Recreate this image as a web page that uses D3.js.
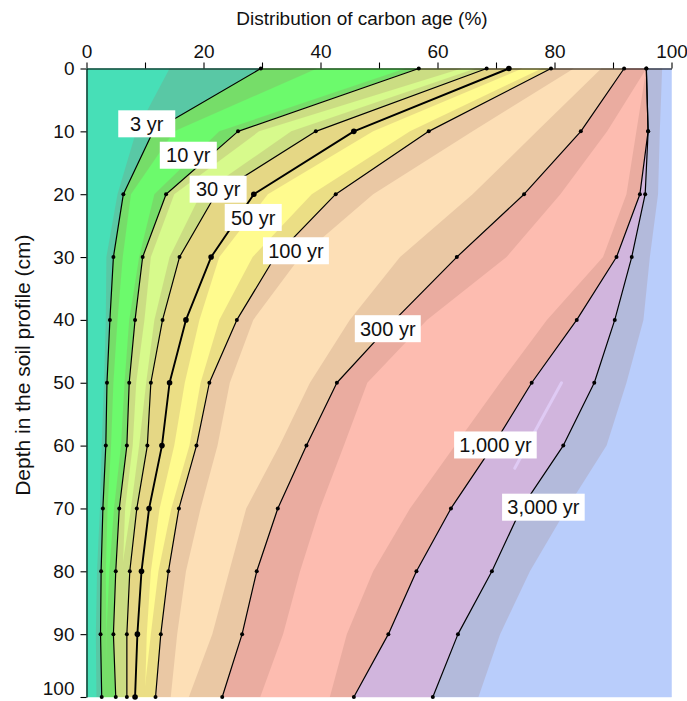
<!DOCTYPE html>
<html><head><meta charset="utf-8">
<script src="https://cdn.jsdelivr.net/npm/d3@7"></script>
<style>
body{margin:0;background:#fff}
svg{display:block}
text{font-family:"Liberation Sans",Arial,Helvetica,sans-serif;fill:#111}
</style>
</head><body>
<svg id="chart" width="687" height="701"></svg>
<script>
// ---- data ----
const depths = [0, 10, 20, 30, 40, 50, 60, 70, 80, 90, 100];
const ageLabels = ["3 yr", "10 yr", "30 yr", "50 yr", "100 yr", "300 yr", "1,000 yr", "3,000 yr"];

// cumulative share of carbon younger than each age (%), by depth
const cum3yr    = [29.8, 11.4, 6.3, 4.6, 4.0, 3.5, 3.3, 2.8, 2.5, 2.4, 2.6];
const cum10yr   = [56.8, 25.9, 13.6, 9.6, 8.3, 7.3, 6.9, 5.6, 5.0, 4.6, 5.0];
const cum30yr   = [68.4, 39.2, 22.1, 15.9, 13.0, 11.0, 10.4, 8.6, 7.4, 6.9, 6.9];
const cum50yr   = [72.2, 45.7, 28.6, 21.3, 17.0, 14.2, 12.9, 10.7, 9.4, 8.7, 8.3];
const cum100yr  = [79.4, 58.5, 42.6, 32.2, 25.7, 21.0, 18.8, 15.8, 14.0, 12.7, 11.8];
const cum300yr  = [91.9, 84.5, 74.8, 63.3, 52.7, 42.8, 37.6, 32.7, 29.1, 26.6, 23.2];
const cum1000yr = [95.7, 96.0, 94.6, 90.6, 83.8, 76.1, 69.5, 62.3, 56.4, 51.6, 45.7];
const cum3000yr = [95.7, 96.0, 95.5, 93.2, 90.3, 86.8, 81.5, 74.3, 69.3, 63.5, 59.2];

// uncertainty bands around each line (%), by depth
const band3lo    = [14.2, 8.5, 5.3, 3.4, 3.3, 3.0, 2.6, 2.3, 1.8, 1.6, 1.7];
const band3hi    = [39.4, 15.0, 7.6, 6.2, 5.3, 4.6, 4.2, 3.6, 3.3, 3.4, 3.6];
const band10lo   = [54.5, 22.7, 11.6, 9.0, 7.3, 6.5, 5.9, 4.7, 3.9, 3.4, 3.5];
const band10hi   = [64.1, 29.5, 15.0, 11.0, 9.9, 8.5, 7.9, 6.6, 6.2, 5.9, 6.0];
const band30lo   = [66.5, 35.0, 19.5, 14.2, 11.6, 10.2, 9.0, 7.6, 6.0, 5.7, 5.8];
const band30hi   = [71.0, 43.0, 26.0, 19.0, 15.5, 13.0, 12.0, 10.0, 8.7, 8.0, 7.8];
const band50lo   = [69.5, 41.5, 24.5, 17.5, 14.5, 12.0, 11.5, 9.5, 8.2, 7.6, 7.3];
const band50hi   = [74.5, 49.0, 31.0, 22.7, 19.3, 16.8, 15.0, 12.5, 11.0, 10.3, 10.0];
const band100lo  = [77.8, 55.3, 38.5, 28.4, 22.7, 19.5, 17.6, 14.5, 12.3, 11.0, 9.8];
const band100hi  = [83.3, 66.0, 49.0, 36.5, 28.5, 24.5, 22.4, 19.5, 17.0, 15.5, 14.4];
const band300lo  = [88.0, 77.0, 66.0, 53.6, 45.0, 38.2, 33.0, 27.3, 24.4, 21.5, 17.5];
const band300hi  = [95.7, 89.0, 81.0, 71.8, 58.2, 48.0, 44.0, 39.9, 36.5, 33.6, 29.7];
const band1000lo = [95.7, 94.0, 92.3, 88.3, 78.7, 70.7, 63.0, 55.3, 49.0, 44.5, 41.6];
const band3000hi = [98.4, 98.0, 97.7, 96.3, 95.2, 92.3, 88.9, 82.1, 75.8, 70.7, 67.0];

// faint light streak inside the 1,000–3,000 yr band: [x (%), depth (cm)]
const streakX     = [81.2, 73.2];
const streakDepth = [50.0, 63.6];

// label anchors: [x (%), depth (cm)]
const labelX     = [10.3, 17.4, 22.5, 28.5, 35.8, 51.5, 69.9, 78.1];
const labelDepth = [8.8, 13.8, 19.2, 23.7, 29.0, 41.4, 59.9, 69.8];

const xTicks = [0, 10, 20, 30, 40, 50, 60, 70, 80, 90, 100];
const yTicks = [0, 10, 20, 30, 40, 50, 60, 70, 80, 90, 100];

// ---- styling ----
const regionColors = ["#47dfb7", "#6cfa6c", "#d7fa8c", "#f7f28f", "#fffb8e", "#fddfb6", "#fdbcb0", "#d1b5dd", "#b9cdfb"];
const FS = "19px";

const lines = [cum3yr, cum10yr, cum30yr, cum50yr, cum100yr, cum300yr, cum1000yr, cum3000yr];
const bandsLo = [band3lo, band10lo, band30lo, band50lo, band100lo, band300lo, band1000lo, cum3000yr];
const bandsHi = [band3hi, band10hi, band30hi, band50hi, band100hi, band300hi, cum1000yr, band3000hi];
const zeros = depths.map(() => 0);
const hundreds = depths.map(() => 100);
const bounds = [zeros, ...lines, hundreds];

const svg = d3.select("#chart");
const x = d3.scaleLinear().domain([0, 100]).range([86.5, 671.5]);
const y = d3.scaleLinear().domain([0, 100]).range([68.5, 697]);

// regions
const area = (lo, hi) => d3.area()
  .y((d, i) => y(depths[i]))
  .x0((d, i) => x(lo[i]))
  .x1((d, i) => x(hi[i]))(depths);

const gReg = svg.append("g");
for (let k = 0; k < regionColors.length; k++) {
  gReg.append("path").attr("d", area(bounds[k], bounds[k + 1]))
    .attr("fill", regionColors[k]).attr("stroke", regionColors[k]).attr("stroke-width", 0.5);
}

// uncertainty bands (union drawn as one translucent layer)
const gBand = svg.append("g").attr("opacity", 0.2);
for (let k = 0; k < lines.length; k++) {
  gBand.append("path").attr("d", area(bandsLo[k], bandsHi[k])).attr("fill", "rgb(160,112,98)");
}

// faint streak
svg.append("path")
  .attr("d", d3.line().x((d, i) => x(streakX[i])).y((d, i) => y(streakDepth[i]))(streakX))
  .attr("stroke", "#e0ccf6").attr("stroke-width", 3).attr("stroke-linecap", "round")
  .attr("opacity", 0.9).attr("fill", "none");

// lines and points
const lineGen = vals => d3.line().x((d, i) => x(vals[i])).y((d, i) => y(depths[i]))(depths);
lines.forEach((vals, k) => {
  const bold = k === 3;
  svg.append("path").attr("d", lineGen(vals)).attr("fill", "none")
    .attr("stroke", "#000").attr("stroke-width", bold ? 1.9 : 1.2).attr("stroke-linejoin", "round");
  svg.append("g").selectAll("circle").data(vals).join("circle")
    .attr("cx", d => x(d)).attr("cy", (d, i) => y(depths[i]))
    .attr("r", bold ? 2.8 : 2).attr("fill", "#000");
});

// labels
ageLabels.forEach((t, k) => {
  const g = svg.append("g").attr("transform", `translate(${x(labelX[k])},${y(labelDepth[k])})`);
  const rect = g.append("rect").attr("fill", "#fff");
  const tx = g.append("text").attr("text-anchor", "middle").attr("dy", "0.36em")
    .style("font-size", "20px").text(t);
  const bb = tx.node().getBBox();
  const w = Math.max(57, bb.width + 10), h = 27;
  rect.attr("x", -w / 2).attr("y", -h / 2).attr("width", w).attr("height", h);
});

// axes
const ax = svg.append("g").attr("transform", `translate(0,${y(0)})`)
  .call(d3.axisTop(x).tickValues(xTicks).tickFormat(d => d % 20 === 0 ? d : "").tickSize(6).tickSizeOuter(0));
ax.selectAll("text").attr("y", -11).style("font-size", FS);
const ay = svg.append("g").attr("transform", `translate(${x(0)},0)`)
  .call(d3.axisLeft(y).tickValues(yTicks).tickSize(6).tickSizeOuter(0));
ay.selectAll("text").attr("x", -12).style("font-size", FS);
// keep the bottom tick label inside the window
ay.selectAll(".tick").filter(d => d === 100).select("text").attr("dy", "-0.12em");
svg.selectAll(".domain, .tick line").attr("stroke", "#000").attr("stroke-width", 1.1);

svg.append("text").attr("x", 362).attr("y", 25).attr("text-anchor", "middle")
  .style("font-size", FS).text("Distribution of carbon age (%)");
svg.append("text").attr("transform", `translate(30,${y(47.2)}) rotate(-90)`).attr("text-anchor", "middle")
  .style("font-size", "21px").text("Depth in the soil profile (cm)");
</script>
</body></html>
